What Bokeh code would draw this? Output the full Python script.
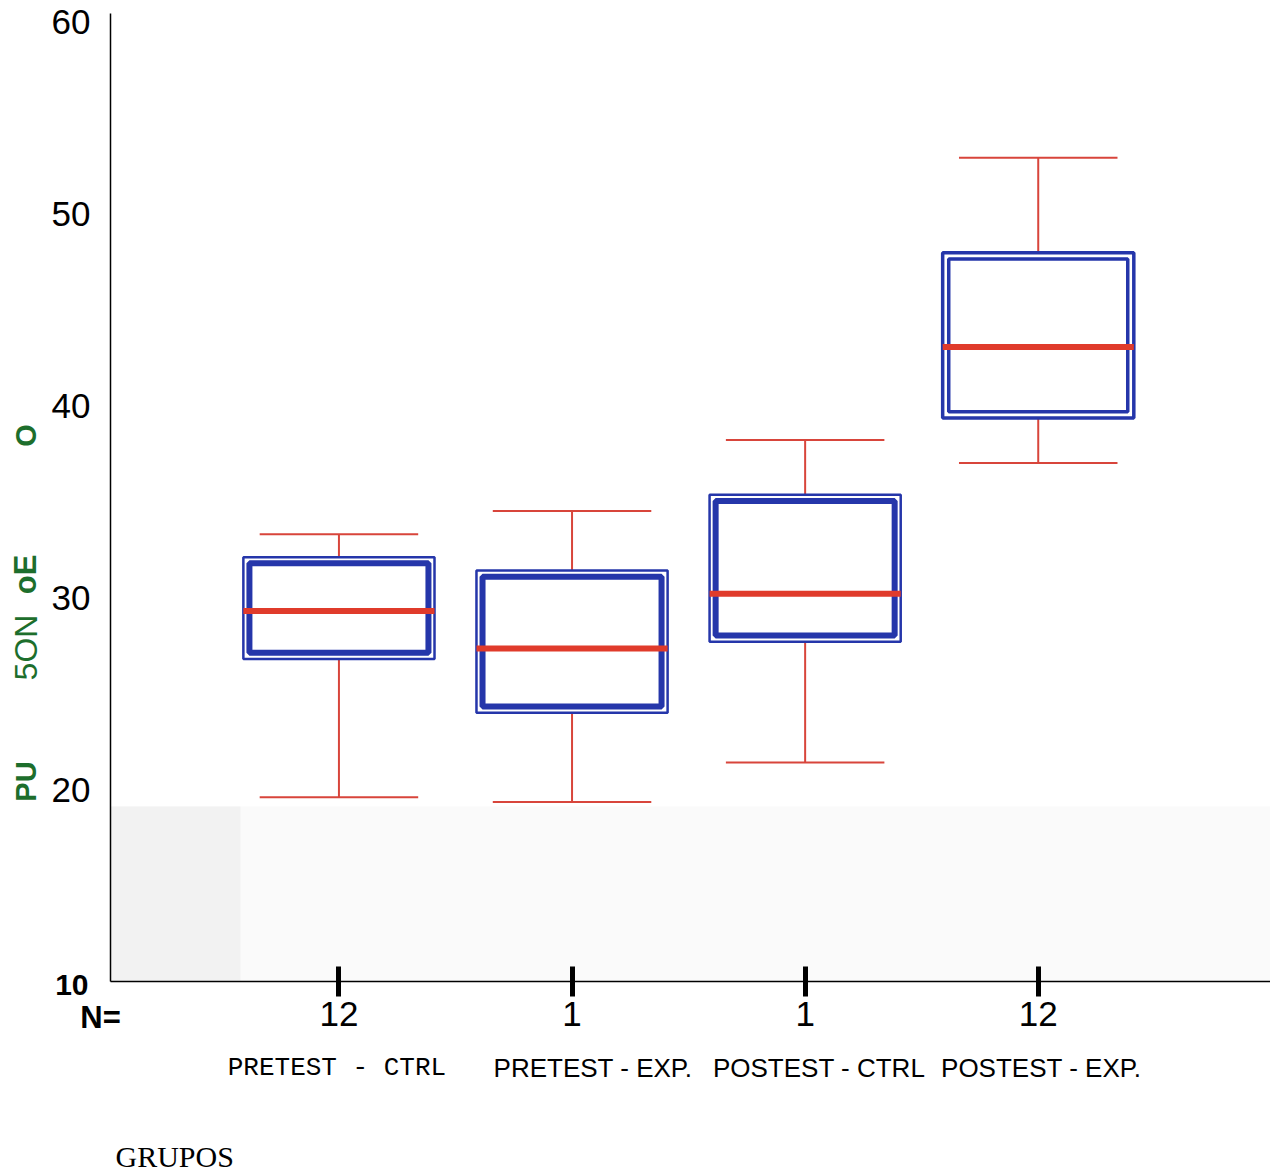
from math import pi
from bokeh.plotting import figure
from bokeh.models import Range1d, FixedTicker, BoxAnnotation
from bokeh.core.properties import value
from bokeh.embed import file_html
from bokeh.resources import INLINE

# ---- data ----
groups = ["PRETEST - CTRL", "PRETEST - EXP.", "POSTEST - CTRL", "POSTEST - EXP."]
n_values = ["12", "1", "1", "12"]
whisker_low = [19.6, 19.35, 21.4, 37.0]
q1 = [26.8, 24.0, 27.7, 39.35]
median = [29.3, 27.35, 30.2, 43.05]
q3 = [32.1, 31.4, 35.35, 47.95]
whisker_high = [33.3, 34.5, 38.2, 52.9]
y_ticks = [20, 30, 40, 50, 60]
y_min, y_max = 10, 60.4
y_label_parts = ["PU", "5ON", "oE", "O"]

# ---- style ----
BLUE = "#2536aa"
RED_W = "#d8453b"
RED_M = "#e03b2b"
GREEN = "#1d6e2c"
half_box = 0.41
half_cap = 0.34
inset_x = 0.026
inset_y = 0.32
outer_w = [2.5, 2.5, 2.5, 3.5]
inner_w = [6, 6, 6, 3.5]

W, H = 1270, 1172
AX_X, AX_Y = 110, 981          # pixel position of the axes corner
PX_X, PX_Y = 233.1, 19.2       # pixels per data unit
x0 = 0.02                      # data x at the y axis

def px_x(dx):
    return dx / PX_X

def px_y(dy):
    return dy / PX_Y

xs = [i + 1 for i in range(len(groups))]

p = figure(width=W, height=H, output_backend="svg", toolbar_location=None,
           x_range=Range1d(x0 - px_x(AX_X), x0 + px_x(W - AX_X)),
           y_range=Range1d(y_min - px_y(H - AX_Y), y_min + px_y(AX_Y)),
           min_border_left=0, min_border_right=0, min_border_top=0, min_border_bottom=0)
p.outline_line_color = None
p.xgrid.visible = False
p.ygrid.visible = False
p.background_fill_color = "white"
p.border_fill_color = "white"

# faint scan shading
shade_top = y_min + px_y(175)
p.add_layout(BoxAnnotation(left=x0, bottom=y_min, top=shade_top, fill_color="#fafafa",
                           fill_alpha=1, line_color=None, level="underlay"))
p.add_layout(BoxAnnotation(left=x0, right=x0 + px_x(130), bottom=y_min, top=shade_top,
                           fill_color="#f2f2f2", fill_alpha=1, line_color=None, level="underlay"))

# whiskers
p.segment(x0=xs, y0=q3, x1=xs, y1=whisker_high, line_color=RED_W, line_width=2)
p.segment(x0=xs, y0=q1, x1=xs, y1=whisker_low, line_color=RED_W, line_width=2)
p.segment(x0=[x - half_cap for x in xs], y0=whisker_high, x1=[x + half_cap for x in xs],
          y1=whisker_high, line_color=RED_W, line_width=2)
p.segment(x0=[x - half_cap for x in xs], y0=whisker_low, x1=[x + half_cap for x in xs],
          y1=whisker_low, line_color=RED_W, line_width=2)

# boxes (double outline)
p.quad(left=[x - half_box for x in xs], right=[x + half_box for x in xs], top=q3, bottom=q1,
       fill_color="white", line_color=BLUE, line_width=outer_w)
p.quad(left=[x - half_box + inset_x for x in xs], right=[x + half_box - inset_x for x in xs],
       top=[v - inset_y for v in q3], bottom=[v + inset_y for v in q1],
       fill_color=None, line_color=BLUE, line_width=inner_w)

# medians
p.segment(x0=[x - half_box for x in xs], y0=median, x1=[x + half_box for x in xs], y1=median,
          line_color=RED_M, line_width=6)

# y axis (fixed inside the canvas)
ya = p.yaxis[0]
ya.fixed_location = x0
ya.bounds = (y_min, y_max)
ya.ticker = FixedTicker(ticks=y_ticks)
ya.major_label_text_font = "Liberation Sans"
ya.major_label_text_font_size = "35px"
ya.major_label_text_color = "black"
ya.major_tick_out = 0
ya.major_tick_in = 0
ya.minor_tick_out = 0
ya.minor_tick_in = 0
ya.major_label_standoff = 20
ya.axis_line_color = "black"
ya.axis_line_width = 1.5

# x axis
xa = p.xaxis[0]
xa.fixed_location = y_min
xa.bounds = (x0, x0 + px_x(W - AX_X))
xa.ticker = FixedTicker(ticks=xs)
xa.major_label_overrides = {x: n for x, n in zip(xs, n_values)}
xa.major_label_text_font = "Liberation Sans"
xa.major_label_text_font_size = "35px"
xa.major_label_text_color = "black"
xa.major_tick_line_width = 5
xa.major_tick_line_color = "black"
xa.major_tick_in = 15
xa.major_tick_out = 15
xa.minor_tick_out = 0
xa.minor_tick_in = 0
xa.major_label_standoff = 5
xa.axis_line_color = "black"
xa.axis_line_width = 1.5

sans = value("Liberation Sans")
mono = value("Liberation Mono")

# bold "10" at the foot of the y axis and "N=" row title
p.text(x=[x0 - px_x(22)], y=[y_min - px_y(3)], text=["10"], text_align="right",
       text_baseline="middle", text_font=sans, text_font_style="bold",
       text_font_size="30px", text_color="black")
p.text(x=[x0 - px_x(10)], y=[y_min - px_y(36)], text=["N="], text_align="center",
       text_baseline="middle", text_font=sans, text_font_style="bold",
       text_font_size="31px", text_color="black")

# group names
shift = [-2, 21, 14, 3]
fonts = [mono, sans, sans, sans]
for i, g in enumerate(groups):
    p.text(x=[xs[i] + px_x(shift[i])], y=[y_min - px_y(86)], text=[g], text_align="center",
           text_baseline="middle", text_font=fonts[i], text_font_size="26px",
           text_color="black")

# GRUPOS
p.text(x=[x0 + px_x(5)], y=[y_min - px_y(175)], text=["GRUPOS"], text_align="left",
       text_baseline="middle", text_font=value("Liberation Serif"), text_font_size="30px",
       text_color="black")

# green y-axis title fragments (pixel distances above the x axis)
frag_up = [200, 334, 407, 546]
frag_style = ["bold", "normal", "bold", "bold"]
frag_size = ["29px", "32px", "31px", "29px"]
p.text(x=[x0 - px_x(85)] * len(y_label_parts), y=[y_min + px_y(d) for d in frag_up],
       text=y_label_parts, angle=pi / 2, text_align="center", text_baseline="middle",
       text_font=sans, text_font_style=frag_style, text_font_size=frag_size,
       text_color=GREEN)

open("out.html", "w").write(file_html(p, INLINE))
